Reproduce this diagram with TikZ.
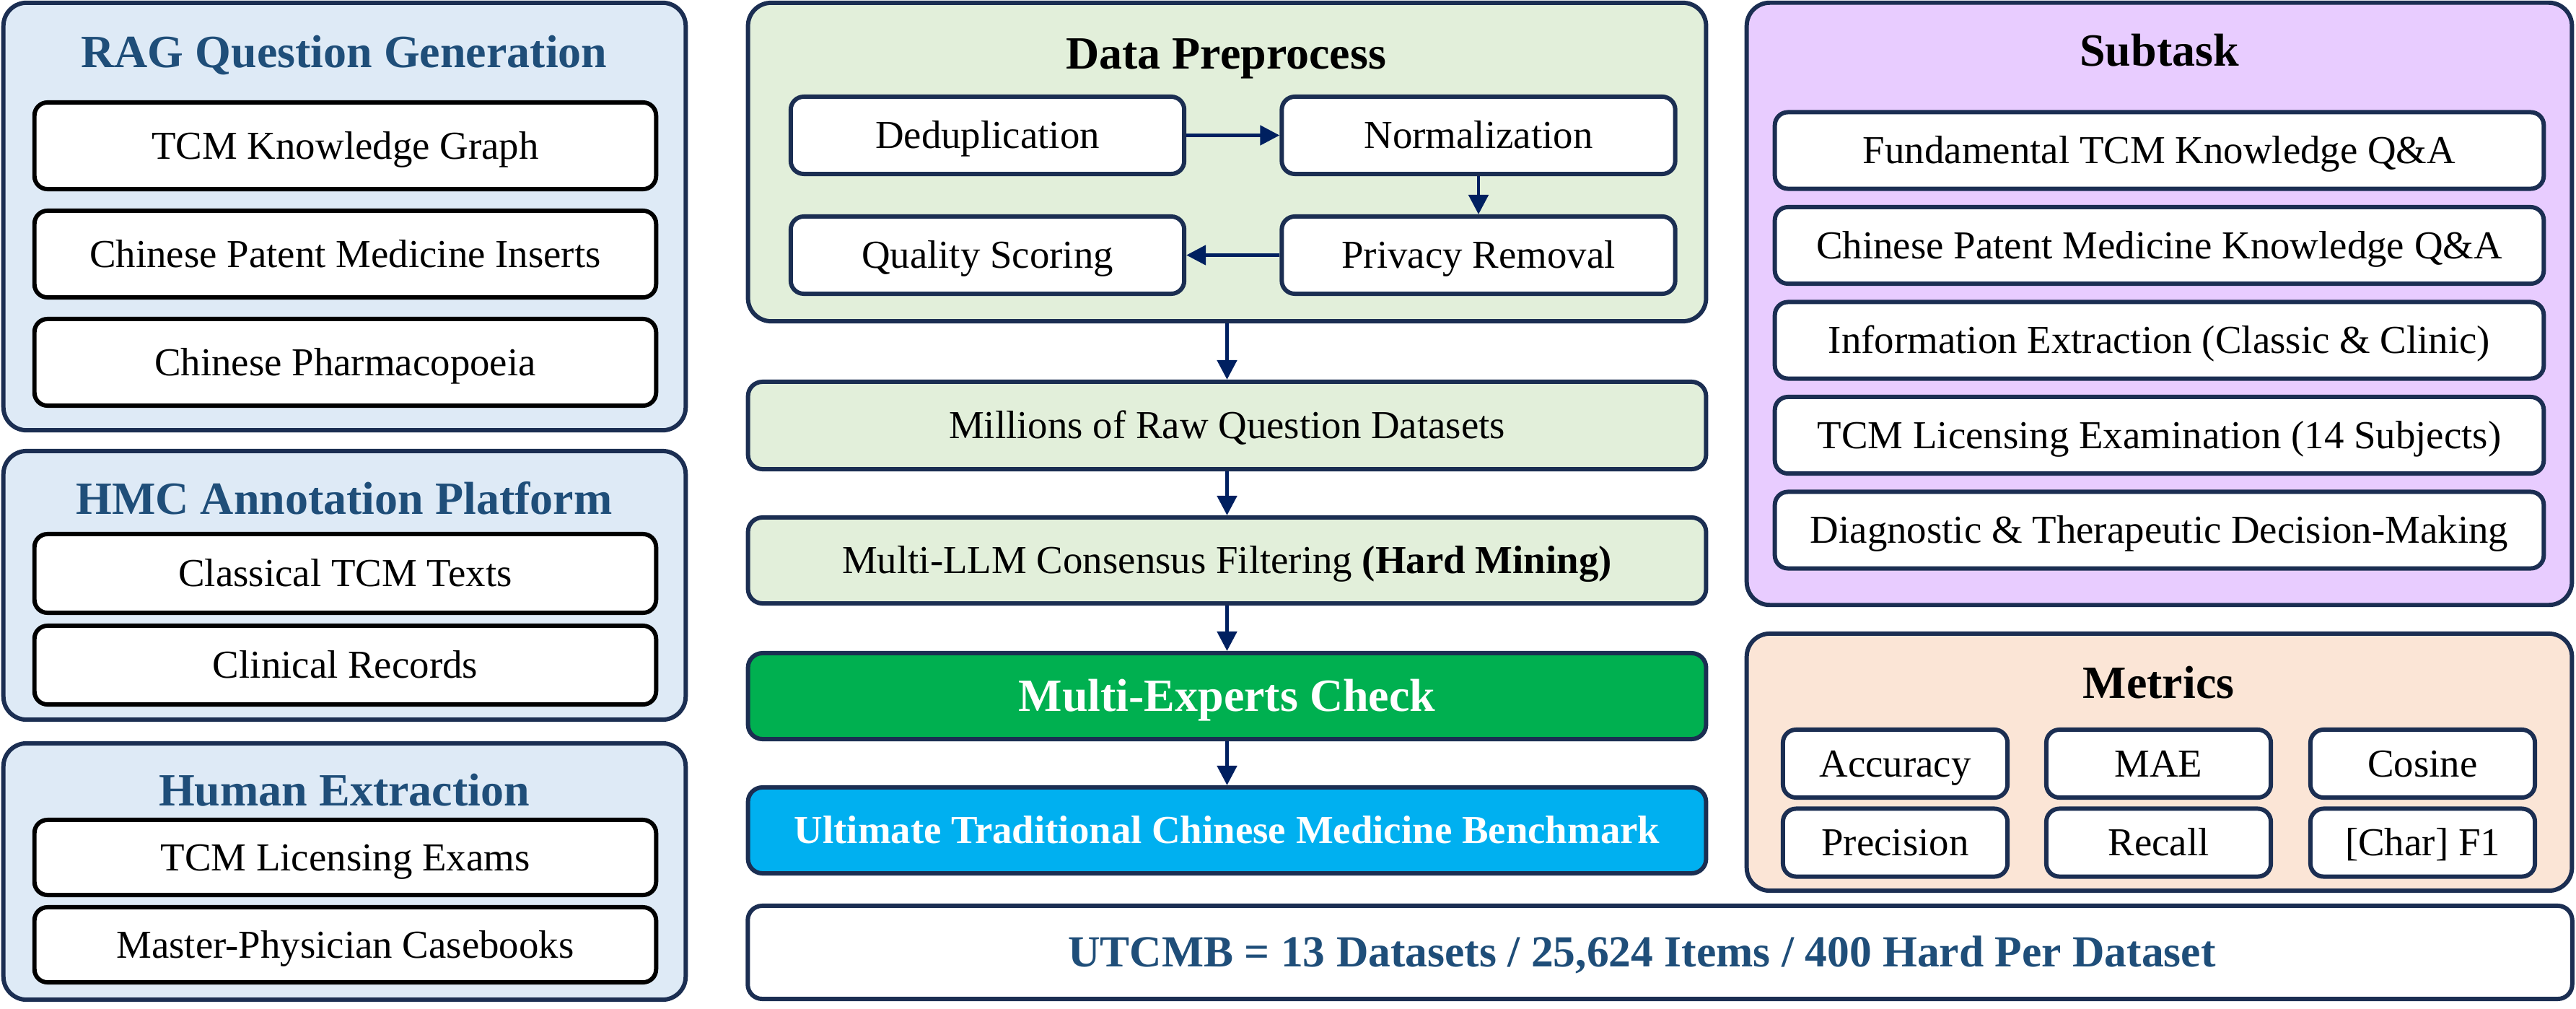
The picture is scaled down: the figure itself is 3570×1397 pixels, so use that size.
\documentclass[tikz,border=0pt]{standalone}
\usepackage{fontspec}
\setmainfont{Liberation Serif}
\usetikzlibrary{arrows.meta}
\definecolor{navy}{HTML}{1B2E52}
\definecolor{arrowblue}{HTML}{002060}
\definecolor{titleblue}{HTML}{1F4E79}
\definecolor{paleblue}{HTML}{DEEAF6}
\definecolor{palegreen}{HTML}{E2EFDA}
\definecolor{lilac}{HTML}{E8CCFF}
\definecolor{peach}{HTML}{FBE5D6}
\definecolor{expertgreen}{HTML}{00B050}
\definecolor{benchcyan}{HTML}{00B0F0}
\newcommand\itemfont{\fontsize{15.6pt}{18pt}\selectfont}
\newcommand\headfont{\fontsize{18.2pt}{22pt}\selectfont\bfseries}
\tikzset{
  panel/.style={draw=navy,line width=1.7pt,rounded corners=0.32cm,inner sep=0pt},
  head/.style={font=\headfont,inner sep=0pt,anchor=base},
  leaf/.style={draw=black,fill=white,line width=1.7pt,rounded corners=0.18cm,inner sep=0pt,
    font=\itemfont,text height=10.3pt,text depth=0pt},
  cell/.style={leaf,draw=navy},
  stage/.style={cell,rounded corners=0.2cm,minimum width=13.27cm,minimum height=1.19cm},
  flow/.style={draw=arrowblue,line width=1.4pt,-{Triangle[length=0.27cm,width=0.27cm]}}
}
\begin{document}
\begin{tikzpicture}[x=0.01cm,y=-0.01cm]
\useasboundingbox (0,0) rectangle (3570,1397);
% left column: sources
\node[panel,fill=paleblue,minimum width=9.45cm,minimum height=5.92cm] (rag) at (477.5,300) {};
\node[head,text=titleblue] (ragT) at (477,94) {RAG Question Generation};
\foreach \t [count=\k] in {TCM Knowledge Graph,Chinese Patent Medicine Inserts,Chinese Pharmacopoeia}
  \node[leaf,minimum width=8.61cm,minimum height=1.2cm] (rag\k) at (478.5,{202+150*(\k-1)}) {\t};
\node[panel,fill=paleblue,minimum width=9.45cm,minimum height=3.72cm] (hmc) at (477.5,811) {};
\node[head,text=titleblue] (hmcT) at (477,712) {HMC Annotation Platform};
\foreach \t [count=\k] in {Classical TCM Texts,Clinical Records}
  \node[leaf,minimum width=8.61cm,minimum height=1.09cm] (hmc\k) at (478.5,{794.5+127*(\k-1)}) {\t};
\node[panel,fill=paleblue,minimum width=9.45cm,minimum height=3.55cm] (hum) at (477.5,1207.5) {};
\node[head,text=titleblue] (humT) at (477,1116) {Human Extraction};
\foreach \t [count=\k] in {TCM Licensing Exams,Master-Physician Casebooks}
  \node[leaf,minimum width=8.61cm,minimum height=1.04cm] (hum\k) at (478.5,{1188+121*(\k-1)}) {\t};
% middle column: pipeline
\node[panel,fill=palegreen,minimum width=13.27cm,minimum height=4.41cm] (pre) at (1700.5,224.5) {};
\node[head] (preT) at (1699,96) {Data Preprocess};
\node[cell,minimum width=5.45cm,minimum height=1.07cm] (dedup) at (1368.5,187.5) {Deduplication};
\node[cell,minimum width=5.45cm,minimum height=1.07cm] (norm) at (2049,187.5) {Normalization};
\node[cell,minimum width=5.45cm,minimum height=1.07cm] (priv) at (2049,353.5) {Privacy Removal};
\node[cell,minimum width=5.45cm,minimum height=1.07cm] (qual) at (1368.5,353.5) {Quality Scoring};
\draw[flow] (dedup) -- (norm);
\draw[flow] (norm) -- (priv);
\draw[flow] (priv) -- (qual);
\node[stage,fill=palegreen,minimum height=1.21cm] (raw) at (1700.5,589.5) {Millions of Raw Question Datasets};
\node[stage,fill=palegreen] (llm) at (1700.5,776.5) {Multi-LLM Consensus Filtering \textbf{(Hard Mining)}};
\node[stage,fill=expertgreen,text=white,font=\headfont,text height=12pt] (expert) at (1700.5,964.5) {Multi-Experts Check};
\node[stage,fill=benchcyan,text=white,font=\itemfont\bfseries] (ult) at (1700.5,1150.5) {Ultimate Traditional Chinese Medicine Benchmark};
\foreach \a/\b in {pre/raw,raw/llm,llm/expert,expert/ult}
  \draw[flow] (\a) -- (\b);
\node[cell,fill=white,rounded corners=0.2cm,minimum width=25.27cm,minimum height=1.29cm,
  text=titleblue,font=\fontsize{17.5pt}{21pt}\selectfont\bfseries,text height=11.6pt] (utcmb) at (2300.5,1319.5)
  {\hspace*{-0.5cm}UTCMB = 13 Datasets / 25,624 Items / 400 Hard Per Dataset};
% right column: subtasks and metrics
\node[panel,fill=lilac,minimum width=11.43cm,minimum height=8.34cm] (sub) at (2992.5,421) {};
\node[head] (subT) at (2992.5,92) {Subtask};
\foreach \t [count=\k] in {Fundamental TCM Knowledge Q\&A,Chinese Patent Medicine Knowledge Q\&A,
  Information Extraction (Classic \& Clinic),TCM Licensing Examination (14 Subjects),
  Diagnostic \& Therapeutic Decision-Making}
  \node[cell,minimum width=10.65cm,minimum height=1.06cm] (sub\k) at (2992.5,{208.5+131.5*(\k-1)}) {\t};
\node[panel,fill=peach,minimum width=11.43cm,minimum height=3.56cm] (met) at (2992.5,1056) {};
\node[head] (metT) at (2991.5,967.5) {Metrics};
\foreach \t/\x/\y [count=\k] in {Accuracy/2626.5/1058,MAE/2991.5/1058,Cosine/3357.5/1058,
  Precision/2626.5/1167.5,Recall/2991.5/1167.5,[Char] F1/3357.5/1167.5}
  \node[cell,minimum width=3.11cm,minimum height=0.94cm] (met\k) at (\x,\y) {\t};
\end{tikzpicture}
\end{document}
